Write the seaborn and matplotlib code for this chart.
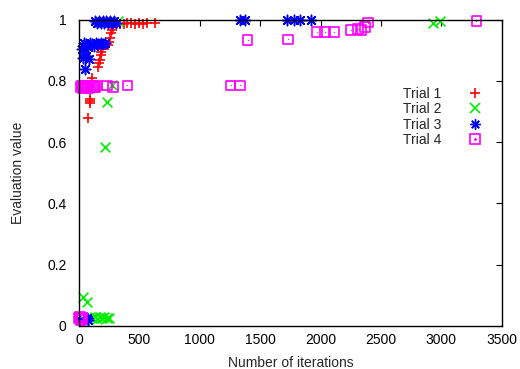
import numpy as np
import pandas as pd
import seaborn as sns
import matplotlib.pyplot as plt
from matplotlib.lines import Line2D

# Data (iterations, evaluation value)
t1_x = [77, 88, 91, 93, 107, 160, 165, 170, 180, 185, 190, 240, 250, 255, 265, 275, 285,
        340, 370, 400, 430, 460, 500, 530, 560, 630]
t1_y = [0.678, 0.735, 0.742, 0.727, 0.81, 0.845, 0.858, 0.868, 0.885, 0.895, 0.905, 0.917, 0.928,
        0.94, 0.956, 0.965, 0.975, 0.985, 0.985, 0.988, 0.988, 0.985, 0.988, 0.985, 0.988, 0.988]

t2_x = [30, 65, 70, 90, 110, 130, 150, 170, 190, 210, 230, 248, 215, 232, 273, 322, 2930, 2985]
t2_y = [0.095, 0.078, 0.025, 0.028, 0.025, 0.03, 0.022, 0.028, 0.025, 0.03, 0.025, 0.027,
        0.585, 0.73, 0.786, 0.995, 0.99, 0.995]

t3_x = [135, 150, 165, 180, 195, 210, 225, 240, 255, 270, 290, 310,
        25, 35, 45, 60, 75, 90, 105, 120, 140, 160, 180, 200, 215,
        33, 45, 60, 80, 50, 5, 70, 78,
        1332, 1373, 1721, 1779, 1829, 1920]
t3_y = [0.995, 0.99, 0.995, 0.99, 0.995, 0.99, 0.995, 0.99, 0.995, 0.99, 0.995, 0.99,
        0.905, 0.915, 0.925, 0.92, 0.91, 0.925, 0.92, 0.915, 0.925, 0.92, 0.925, 0.92, 0.925,
        0.875, 0.89, 0.88, 0.87, 0.84, 0.02, 0.025, 0.02,
        1.0, 1.0, 1.0, 1.0, 1.0, 1.0]

t4_x = [15, 25, 35, 45, 55, 65, 75, 85, 95, 105, 115, 125, 135, 150, 230, 280, 400, 1255, 1330,
        1395, 1730, 1970, 2035, 2110, 2250, 2310, 2340, 2370, 2390, 3290,
        0, 8, 15, 25]
t4_y = [0.78, 0.785, 0.775, 0.78, 0.785, 0.78, 0.775, 0.785, 0.78, 0.78, 0.785, 0.78, 0.78, 0.785,
        0.785, 0.78, 0.785, 0.785, 0.785,
        0.933, 0.935, 0.96, 0.96, 0.96, 0.965, 0.97, 0.965, 0.975, 0.99, 0.995,
        0.025, 0.03, 0.02, 0.025]

labels = ["Trial 1", "Trial 2", "Trial 3", "Trial 4"]
colors = ["#ff0000", "#00ee00", "#0000ff", "#ff00ff"]

sns.set_style("white")
plt.rcParams["font.family"] = ["Liberation Sans", "DejaVu Sans"]

fig = plt.figure(figsize=(5.2, 3.69), dpi=100)
ax = fig.add_axes([0.152, 0.117, 0.813, 0.83])

star = (8, 2, 0)
sns.scatterplot(x=t1_x, y=t1_y, ax=ax, marker="+", color=colors[0], s=45, linewidth=1.2, clip_on=False)
sns.scatterplot(x=t2_x, y=t2_y, ax=ax, marker="x", color=colors[1], s=50, linewidth=1.2, clip_on=False)
sns.scatterplot(x=t3_x, y=t3_y, ax=ax, marker=star, color=colors[2], s=55, linewidth=1.1, clip_on=False)
sns.scatterplot(x=t4_x, y=t4_y, ax=ax, marker="s", color=colors[3], fc="none", ec=colors[3],
                s=48, linewidth=1.2, clip_on=False)
sns.scatterplot(x=t4_x, y=t4_y, ax=ax, marker=".", color=colors[3], s=3, linewidth=0, clip_on=False)

ax.set_xlim(0, 3500)
ax.set_ylim(0, 1)
ax.set_xticks(np.arange(0, 3501, 500))
ax.set_yticks([0, 0.2, 0.4, 0.6, 0.8, 1])
ax.set_yticklabels(["0", "0.2", "0.4", "0.6", "0.8", "1"])
ax.tick_params(direction="in", length=4, width=0.8, top=True, right=True,
               labelsize=10, colors="black")
ax.tick_params(axis="x", pad=5)
ax.tick_params(axis="y", pad=9)
for sp in ax.spines.values():
    sp.set_color("black")
    sp.set_linewidth(1.0)

ax.set_xlabel("Number of iterations", fontsize=10, labelpad=7)
ax.set_ylabel("Evaluation value", fontsize=10, labelpad=16)

handles = [
    Line2D([], [], ls="none", marker="+", color=colors[0], ms=7, mew=1.2),
    Line2D([], [], ls="none", marker="x", color=colors[1], ms=7, mew=1.2),
    Line2D([], [], ls="none", marker=star, color=colors[2], ms=7.5, mew=1.0),
    (Line2D([], [], ls="none", marker="s", mfc="none", mec=colors[3], ms=7, mew=1.2),
     Line2D([], [], ls="none", marker=".", color=colors[3], ms=2)),
]
ax.legend(handles, labels, loc="upper right", bbox_to_anchor=(490 / 520, 1 - 80 / 369),
          bbox_transform=fig.transFigure, frameon=False, markerfirst=False, fontsize=10,
          borderpad=0, labelspacing=0.1, handlelength=1.2, handletextpad=1.8)

fig.savefig("out.png", dpi=100)
